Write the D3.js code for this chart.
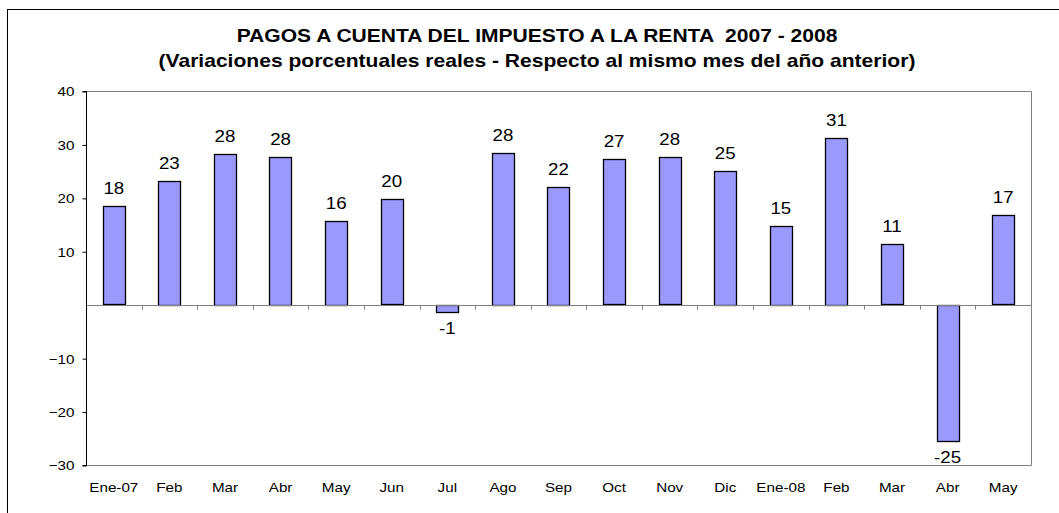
<!DOCTYPE html>
<html>
<head>
<meta charset="utf-8">
<script src="https://cdn.jsdelivr.net/npm/d3@7"></script>
<style>
  html, body { margin: 0; padding: 0; background: #fff; }
  svg { display: block; }
  text { font-family: "Liberation Sans", Arial, sans-serif; fill: #000; white-space: pre; }
</style>
</head>
<body>
<svg id="chart" width="1059" height="513"></svg>
<script>
const categories = ["Ene-07","Feb","Mar","Abr","May","Jun","Jul","Ago","Sep","Oct","Nov","Dic","Ene-08","Feb","Mar","Abr","May"];
const values = [18.4, 23.2, 28.3, 27.7, 15.7, 19.7, -1.3, 28.4, 22.0, 27.2, 27.6, 25.1, 14.8, 31.2, 11.3, -25.5, 16.7];
const labels = ["18","23","28","28","16","20","-1","28","22","27","28","25","15","31","11","-25","17"];
const yTicks = [40, 30, 20, 10, -10, -20, -30];
const titleLines = ["PAGOS A CUENTA DEL IMPUESTO A LA RENTA  2007 - 2008",
                    "(Variaciones porcentuales reales - Respecto al mismo mes del año anterior)"];

const svg = d3.select("#chart");
const W = 1059, H = 513;
const plot = {left: 86, right: 1031, top: 91, bottom: 465};
const SX = 1.17; // horizontal stretch of the original's text

function stretchedText(g, x, y) {
  return g.append("text").attr("transform", `translate(${x},${y}) scale(${SX},1)`);
}

// outer chart border
svg.append("rect").attr("x", 7.5).attr("y", 9.5).attr("width", W + 10).attr("height", H + 10)
  .attr("fill", "#fff").attr("stroke", "#000").attr("stroke-width", 1);

const x = d3.scaleBand().domain(d3.range(categories.length)).range([plot.left, plot.right]).paddingInner(0.6).paddingOuter(0.3);
const y = d3.scaleLinear().domain([-30, 40]).range([plot.bottom, plot.top]);

// plot area border (gray)
svg.append("path")
  .attr("d", `M${plot.left},${plot.top + 0.5}H${plot.right + 0.5}V${plot.bottom + 0.5}H${plot.left}`)
  .attr("fill", "none").attr("stroke", "#808080").attr("stroke-width", 1);

// title
stretchedText(svg, 537, 42).attr("text-anchor", "middle").attr("xml:space", "preserve")
  .attr("font-weight", "bold").attr("font-size", 18).text(titleLines[0]);
stretchedText(svg, 537, 67).attr("text-anchor", "middle")
  .attr("font-weight", "bold").attr("font-size", 18).text(titleLines[1]);

// bars
svg.append("g").selectAll("rect").data(values).join("rect")
  .attr("x", (d, i) => Math.round(x(i)) + 0.5)
  .attr("y", d => Math.round(y(Math.max(0, d))) + 0.5)
  .attr("width", Math.round(x.bandwidth()))
  .attr("height", d => Math.round(Math.abs(y(d) - y(0))))
  .attr("fill", "#9999FF").attr("stroke", "#000").attr("stroke-width", 1.3);

// zero axis line with category ticks
const x0 = d3.scaleLinear().domain([0, categories.length]).range([plot.left, plot.right]);
const y0 = Math.round(y(0)) + 0.5;
svg.append("line").attr("x1", plot.left).attr("x2", plot.right).attr("y1", y0).attr("y2", y0)
  .attr("stroke", "#808080").attr("stroke-width", 1);
svg.append("g").selectAll("line").data(d3.range(1, categories.length + 1)).join("line")
  .attr("x1", d => Math.round(x0(d)) + 0.5).attr("x2", d => Math.round(x0(d)) + 0.5)
  .attr("y1", y0).attr("y2", y0 + 4).attr("stroke", "#808080");

// y axis
const yAxis = d3.axisLeft(y).tickValues(yTicks).tickSize(4).tickFormat(d3.format("d"));
const gy = svg.append("g").attr("transform", `translate(${plot.left + 0.5},0.5)`).call(yAxis);
gy.select(".domain").attr("stroke", "#000").attr("d", `M-4,${plot.top}H0V${plot.bottom}H-4`);
gy.selectAll(".tick line").attr("stroke", "#000");
gy.selectAll(".tick text").remove();
gy.selectAll(".tick").each(function(d) {
  stretchedText(d3.select(this), -12, 0).attr("dy", "0.34em").attr("text-anchor", "end")
    .attr("font-size", 13).attr("font-family", "Liberation Sans, Arial, sans-serif").attr("fill", "#000")
    .text(d3.format("d")(d));
});

// x labels
const gx = svg.append("g");
categories.forEach((c, i) => {
  stretchedText(gx, x(i) + x.bandwidth() / 2, 492).attr("text-anchor", "middle").attr("font-size", 13).text(c);
});

// data labels
const gl = svg.append("g");
values.forEach((v, i) => {
  stretchedText(gl, x(i) + x.bandwidth() / 2, v >= 0 ? y(v) - 12 : y(v) + 22)
    .attr("text-anchor", "middle").attr("font-size", 16).text(labels[i]);
});
</script>
</body>
</html>
